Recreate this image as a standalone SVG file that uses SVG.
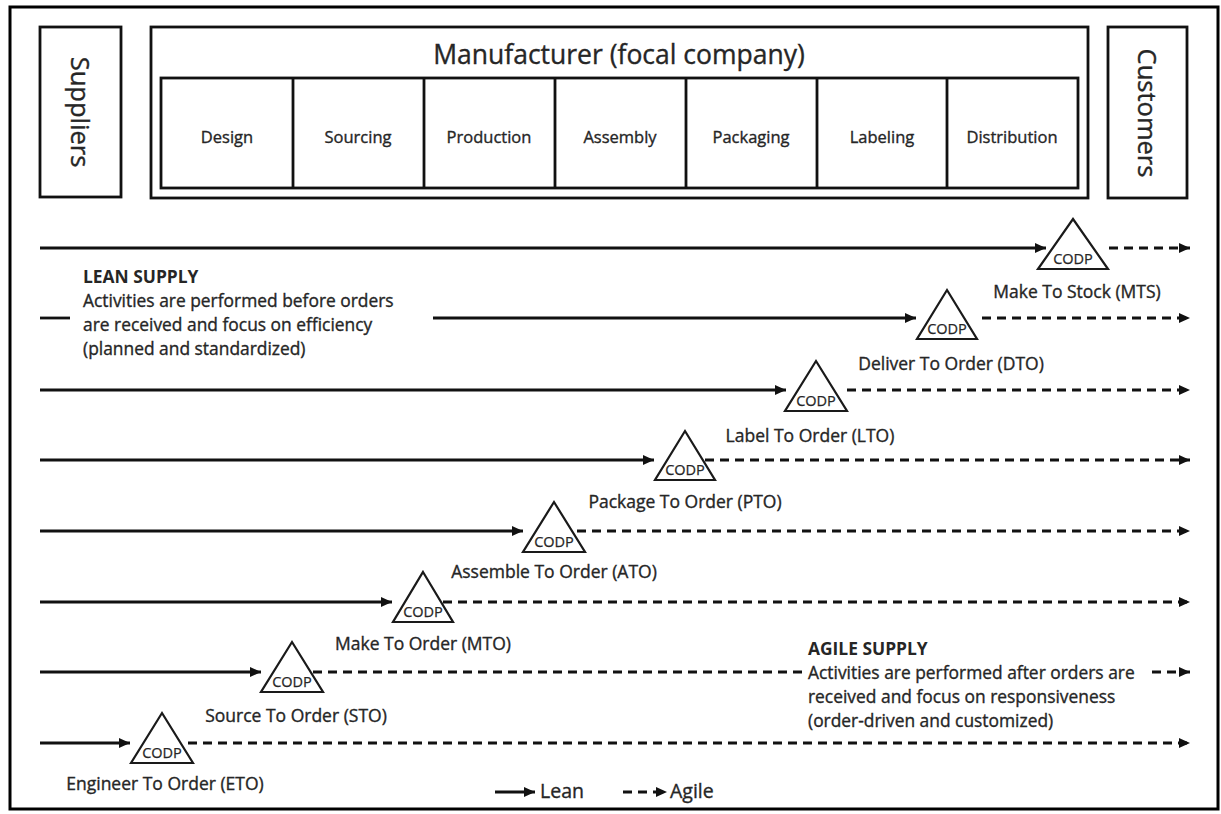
<svg xmlns="http://www.w3.org/2000/svg" width="1221" height="814" viewBox="0 0 1221 814">
  <defs>
    <style>
      .frame { fill: #ffffff; stroke: #000000; stroke-width: 3; }
      .box { fill: #ffffff; stroke: #111111; stroke-width: 2.8; }
      .cell { fill: none; stroke: #111111; stroke-width: 2.8; }
      .t { font-family: "Open Sans", "Liberation Sans", sans-serif; fill: #262626; stroke: #262626; stroke-width: 0.35; }
      .title { font-size: 26.5px; text-anchor: middle; }
      .side { font-size: 25.5px; text-anchor: middle; }
      .cellt { font-size: 16.5px; text-anchor: middle; }
      .lbl { font-size: 17.5px; text-anchor: middle; }
      .note { font-size: 17.4px; }
      .bold { font-weight: bold; stroke-width: 0; }
      .codp { fill: #ffffff; stroke: #1a1a1a; stroke-width: 2.2; stroke-linejoin: miter; }
      .codpt { font-family: "Open Sans", "Liberation Sans", sans-serif; font-size: 14.5px; fill: #262626; stroke: #262626; stroke-width: 0.25; text-anchor: middle; }
      .lean { stroke: #111111; stroke-width: 2.8; fill: none; marker-end: url(#head); }
      .leanplain { stroke: #111111; stroke-width: 2.8; fill: none; }
      .agile { stroke: #111111; stroke-width: 2.9; fill: none; stroke-dasharray: 9 6; marker-end: url(#head); }
      .agileplain { stroke: #111111; stroke-width: 2.9; fill: none; stroke-dasharray: 9 6; }
    </style>
    <marker id="head" markerUnits="userSpaceOnUse" markerWidth="12" markerHeight="11" refX="11" refY="5" orient="auto">
      <path d="M0,0 L11,5 L0,10 Z" fill="#111111"/>
    </marker>
  </defs>

  <!-- outer frame -->
  <rect class="frame" x="10" y="7" width="1208" height="802"/>

  <!-- supply chain parties -->
  <g id="suppliers">
    <rect class="box" x="40" y="27" width="81" height="170"/>
    <text class="t side" transform="translate(71,112) rotate(90)">Suppliers</text>
  </g>

  <g id="manufacturer">
    <rect class="box" x="151" y="27" width="937" height="171"/>
    <text class="t title" x="619" y="64">Manufacturer (focal company)</text>
    <rect class="cell" x="161" y="78" width="917" height="110"/>
    <g id="cell-lines">
      <line class="cell" x1="293" y1="78" x2="293" y2="188"/>
      <line class="cell" x1="424" y1="78" x2="424" y2="188"/>
      <line class="cell" x1="555" y1="78" x2="555" y2="188"/>
      <line class="cell" x1="686" y1="78" x2="686" y2="188"/>
      <line class="cell" x1="817" y1="78" x2="817" y2="188"/>
      <line class="cell" x1="947" y1="78" x2="947" y2="188"/>
    </g>
    <text class="t cellt" x="227" y="143">Design</text>
    <text class="t cellt" x="358" y="143">Sourcing</text>
    <text class="t cellt" x="489" y="143">Production</text>
    <text class="t cellt" x="620" y="143">Assembly</text>
    <text class="t cellt" x="751" y="143">Packaging</text>
    <text class="t cellt" x="882" y="143">Labeling</text>
    <text class="t cellt" x="1012" y="143">Distribution</text>
  </g>

  <g id="customers">
    <rect class="box" x="1108" y="27" width="79" height="171"/>
    <text class="t side" transform="translate(1138,113) rotate(90)">Customers</text>
  </g>

  <!-- lean (solid) and agile (dashed) flows for each decoupling point -->
  <g id="connectors">
    <line class="lean" x1="40" y1="248" x2="1046" y2="248"/>
    <line class="agile" x1="1109" y1="248" x2="1190" y2="248"/>

    <line class="leanplain" x1="40" y1="318" x2="70" y2="318"/>
    <line class="lean" x1="433" y1="318" x2="916" y2="318"/>
    <line class="agile" x1="982" y1="318" x2="1190" y2="318"/>

    <line class="lean" x1="40" y1="390" x2="786" y2="390"/>
    <line class="agile" x1="847" y1="390" x2="1190" y2="390"/>

    <line class="lean" x1="40" y1="460" x2="654" y2="460"/>
    <line class="agile" x1="705" y1="460" x2="1190" y2="460"/>

    <line class="lean" x1="40" y1="531" x2="523" y2="531"/>
    <line class="agile" x1="577" y1="531" x2="1190" y2="531"/>

    <line class="lean" x1="40" y1="602" x2="392" y2="602"/>
    <line class="agile" x1="443" y1="602" x2="1190" y2="602"/>

    <line class="lean" x1="40" y1="672" x2="261" y2="672"/>
    <line class="agileplain" x1="313" y1="672" x2="802" y2="672"/>
    <line class="agile" x1="1152" y1="672" x2="1190" y2="672"/>

    <line class="lean" x1="40" y1="743" x2="130" y2="743"/>
    <line class="agile" x1="188" y1="743" x2="1190" y2="743"/>
  </g>

  <!-- customer order decoupling points -->
  <g id="codp-mts">
    <polygon class="codp" points="1073,219 1108,269 1038,269"/>
    <text class="codpt" x="1073" y="264">CODP</text>
    <text class="t lbl" x="1077" y="298">Make To Stock (MTS)</text>
  </g>
  <g id="codp-dto">
    <polygon class="codp" points="947,290 977,339 917,339"/>
    <text class="codpt" x="947" y="334">CODP</text>
    <text class="t lbl" x="951" y="370">Deliver To Order (DTO)</text>
  </g>
  <g id="codp-lto">
    <polygon class="codp" points="816,361 847,411 785,411"/>
    <text class="codpt" x="816" y="406">CODP</text>
    <text class="t lbl" x="810" y="442">Label To Order (LTO)</text>
  </g>
  <g id="codp-pto">
    <polygon class="codp" points="685,431 715,480 655,480"/>
    <text class="codpt" x="685" y="475">CODP</text>
    <text class="t lbl" x="685" y="508">Package To Order (PTO)</text>
  </g>
  <g id="codp-ato">
    <polygon class="codp" points="554,502 585,552 523,552"/>
    <text class="codpt" x="554" y="547">CODP</text>
    <text class="t lbl" x="554" y="578">Assemble To Order (ATO)</text>
  </g>
  <g id="codp-mto">
    <polygon class="codp" points="423,572 453,622 393,622"/>
    <text class="codpt" x="423" y="617">CODP</text>
    <text class="t lbl" x="423" y="650">Make To Order (MTO)</text>
  </g>
  <g id="codp-sto">
    <polygon class="codp" points="292,642 323,692 261,692"/>
    <text class="codpt" x="292" y="687">CODP</text>
    <text class="t lbl" x="296" y="722">Source To Order (STO)</text>
  </g>
  <g id="codp-eto">
    <polygon class="codp" points="162,713 193,763 131,763"/>
    <text class="codpt" x="162" y="758">CODP</text>
    <text class="t lbl" x="165" y="790">Engineer To Order (ETO)</text>
  </g>

  <!-- explanatory notes -->
  <g id="lean-note">
    <text class="t note bold" x="83" y="283">LEAN SUPPLY</text>
    <text class="t note" x="83" y="307">Activities are performed before orders</text>
    <text class="t note" x="83" y="331">are received and focus on efficiency</text>
    <text class="t note" x="83" y="355">(planned and standardized)</text>
  </g>
  <g id="agile-note">
    <text class="t note bold" x="808" y="655">AGILE SUPPLY</text>
    <text class="t note" x="808" y="679">Activities are performed after orders are</text>
    <text class="t note" x="808" y="703">received and focus on responsiveness</text>
    <text class="t note" x="808" y="727">(order-driven and customized)</text>
  </g>

  <!-- legend -->
  <g id="legend">
    <line class="lean" x1="495" y1="792" x2="535" y2="792"/>
    <text class="t" x="540" y="798" font-size="19.5">Lean</text>
    <line class="agile" x1="623" y1="792" x2="667" y2="792" stroke-dasharray="6 5"/>
    <text class="t" x="670" y="798" font-size="19.5">Agile</text>
  </g>
</svg>
